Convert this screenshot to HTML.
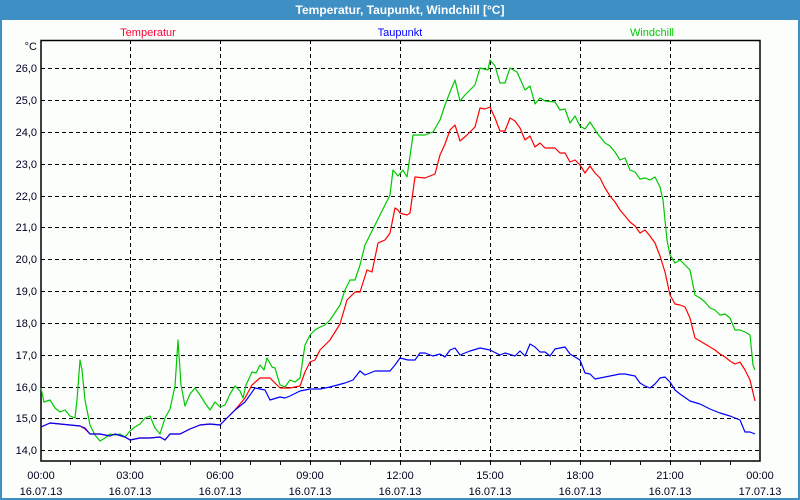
<!DOCTYPE html>
<html><head><meta charset="utf-8"><style>
html,body{margin:0;padding:0;background:#fff}
body{width:800px;height:500px;overflow:hidden;position:relative;font-family:"Liberation Sans",sans-serif}
</style></head><body>
<svg width="800" height="500" viewBox="0 0 800 500" xmlns="http://www.w3.org/2000/svg" style="position:absolute;left:0;top:0">
<rect x="0" y="0" width="800" height="500" fill="#3d8fc4"/>
<rect x="2" y="20" width="796" height="478" fill="#fcfefc"/>
<text x="400" y="14" fill="#fff" font-size="12" font-weight="bold" text-anchor="middle" font-family="Liberation Sans, sans-serif">Temperatur, Taupunkt, Windchill [°C]</text>
<g font-size="11" font-family="Liberation Sans, sans-serif">
<text x="148" y="36" fill="#ff0033" text-anchor="middle">Temperatur</text>
<text x="400" y="36" fill="#0000ff" text-anchor="middle">Taupunkt</text>
<text x="652" y="36" fill="#00cc00" text-anchor="middle">Windchill</text>
</g>
<g stroke="#000" stroke-width="1" stroke-dasharray="4,3" shape-rendering="crispEdges">
<line x1="41" x2="760" y1="68.5" y2="68.5"/><line x1="41" x2="760" y1="100.5" y2="100.5"/><line x1="41" x2="760" y1="132.5" y2="132.5"/><line x1="41" x2="760" y1="164.5" y2="164.5"/><line x1="41" x2="760" y1="196.5" y2="196.5"/><line x1="41" x2="760" y1="227.5" y2="227.5"/><line x1="41" x2="760" y1="259.5" y2="259.5"/><line x1="41" x2="760" y1="291.5" y2="291.5"/><line x1="41" x2="760" y1="323.5" y2="323.5"/><line x1="41" x2="760" y1="355.5" y2="355.5"/><line x1="41" x2="760" y1="387.5" y2="387.5"/><line x1="41" x2="760" y1="418.5" y2="418.5"/><line x1="41" x2="760" y1="450.5" y2="450.5"/>
<line y1="40" y2="461" x1="130.5" x2="130.5"/><line y1="40" y2="461" x1="220.5" x2="220.5"/><line y1="40" y2="461" x1="310.5" x2="310.5"/><line y1="40" y2="461" x1="400.5" x2="400.5"/><line y1="40" y2="461" x1="490.5" x2="490.5"/><line y1="40" y2="461" x1="580.5" x2="580.5"/><line y1="40" y2="461" x1="670.5" x2="670.5"/>
</g>
<g stroke="#000" stroke-width="1" shape-rendering="crispEdges">
<line x1="70.5" x2="70.5" y1="461" y2="465"/><line x1="100.5" x2="100.5" y1="461" y2="465"/><line x1="160.5" x2="160.5" y1="461" y2="465"/><line x1="190.5" x2="190.5" y1="461" y2="465"/><line x1="250.5" x2="250.5" y1="461" y2="465"/><line x1="280.5" x2="280.5" y1="461" y2="465"/><line x1="340.5" x2="340.5" y1="461" y2="465"/><line x1="370.5" x2="370.5" y1="461" y2="465"/><line x1="430.5" x2="430.5" y1="461" y2="465"/><line x1="460.5" x2="460.5" y1="461" y2="465"/><line x1="520.5" x2="520.5" y1="461" y2="465"/><line x1="550.5" x2="550.5" y1="461" y2="465"/><line x1="610.5" x2="610.5" y1="461" y2="465"/><line x1="640.5" x2="640.5" y1="461" y2="465"/><line x1="700.5" x2="700.5" y1="461" y2="465"/><line x1="730.5" x2="730.5" y1="461" y2="465"/>
<line x1="130.5" x2="130.5" y1="461" y2="465"/><line x1="220.5" x2="220.5" y1="461" y2="465"/><line x1="310.5" x2="310.5" y1="461" y2="465"/><line x1="400.5" x2="400.5" y1="461" y2="465"/><line x1="490.5" x2="490.5" y1="461" y2="465"/><line x1="580.5" x2="580.5" y1="461" y2="465"/><line x1="670.5" x2="670.5" y1="461" y2="465"/>
</g>
<rect x="41" y="40.5" width="719" height="420.5" fill="none" stroke="#000" stroke-width="1.5"/>
<g font-size="11" fill="#000022" text-anchor="end" font-family="Liberation Sans, sans-serif">
<text x="37" y="50">°C</text>
<text x="37" y="72">26,0</text><text x="37" y="104">25,0</text><text x="37" y="136">24,0</text><text x="37" y="168">23,0</text><text x="37" y="200">22,0</text><text x="37" y="231">21,0</text><text x="37" y="263">20,0</text><text x="37" y="295">19,0</text><text x="37" y="327">18,0</text><text x="37" y="359">17,0</text><text x="37" y="391">16,0</text><text x="37" y="422">15,0</text><text x="37" y="454">14,0</text>
</g>
<g font-size="11" fill="#000022" text-anchor="middle" font-family="Liberation Sans, sans-serif">
<text x="41" y="479">00:00</text><text x="41" y="495">16.07.13</text>
<text x="130" y="479">03:00</text><text x="130" y="495">16.07.13</text>
<text x="220" y="479">06:00</text><text x="220" y="495">16.07.13</text>
<text x="310" y="479">09:00</text><text x="310" y="495">16.07.13</text>
<text x="400" y="479">12:00</text><text x="400" y="495">16.07.13</text>
<text x="490" y="479">15:00</text><text x="490" y="495">16.07.13</text>
<text x="580" y="479">18:00</text><text x="580" y="495">16.07.13</text>
<text x="670" y="479">21:00</text><text x="670" y="495">16.07.13</text>
<text x="760" y="479">00:00</text><text x="760" y="495">17.07.13</text>
</g>
<g fill="none" stroke-width="1.2" stroke-linejoin="round">
<polyline stroke="#00c800" points="41,388 44,402 50,400 55,408 60,412 65,410 70,416 75,418 77,400 80,360 82,370 85,400 90,425 95,435 100,441 105,438 110,434 115,435 120,434 125,437 130,431 135,427 140,424 145,418 150,416 155,428 160,434 165,418 170,409 175,386 178,340 181,385 185,406 190,394 195,388 200,395 205,403 210,410 215,402 220,407 225,405 230,394 235,386 240,391 243,398 246,385 252,372 256,373 260,365 264,370 267,358 272,367 275,368 280,385 285,387 290,380 295,382 300,378 305,345 310,335 315,330 320,327 325,325 330,320 340,305 345,290 350,280 355,280 360,265 365,245 370,235 375,225 380,215 385,205 390,195 393,170 398,176 403,170 407,177 413,135 425,135 433,132 440,120 445,105 450,92 455,80 460,101 465,95 475,85 480,68 488,70 490,60 495,66 500,83 505,83 510,68 517,72 525,90 530,86 535,104 540,98 545,101 555,102 560,110 565,109 570,123 575,116 580,126 585,129 590,122 597,133 605,143 610,146 615,152 620,160 625,158 630,170 635,172 640,179 645,178 650,180 655,177 660,187 663,200 667,240 670,255 675,263 680,260 690,270 695,295 700,298 705,302 710,308 715,310 720,315 725,314 730,318 735,330 740,330 745,332 750,335 753,365 755,370"/>
<polyline stroke="#ff0000" points="41,427 50,423 60,424 70,425 80,426 85,429 90,434 100,434 110,436 115,434 125,437 130,440 140,438 150,438 160,437 165,440 170,434 180,434 190,429 200,425 210,424 220,425 225,420 235,410 245,398 252,385 260,378 270,378 280,388 290,388 300,386 305,372 310,362 315,360 320,350 330,340 340,324 347,300 355,292 360,292 367,270 372,272 378,243 385,240 390,233 395,208 398,210 400,213 403,214 407,215 410,213 415,177 425,178 435,174 440,155 445,144 450,130 455,125 460,141 467,135 475,127 480,108 485,109 490,107 495,118 500,131 505,131 510,118 515,121 520,128 525,140 530,136 535,147 540,143 545,148 555,148 560,153 565,153 570,162 575,160 580,165 585,173 590,166 595,173 600,178 605,188 610,196 615,202 620,210 625,216 630,222 635,226 640,233 645,230 650,236 655,243 660,256 665,272 670,295 675,304 680,305 685,307 690,318 695,338 700,341 705,344 710,347 715,350 720,354 725,357 730,361 735,364 740,362 745,370 750,380 755,401"/>
<polyline stroke="#0000ff" points="41,427 50,423 60,424 70,425 80,426 85,428 90,434 100,434 110,436 115,434 125,437 130,440 140,438 150,438 160,437 165,440 170,434 180,434 190,429 200,425 210,424 220,425 225,420 235,410 245,402 255,388 265,390 270,400 280,397 285,398 290,396 300,391 310,389 320,389 330,387 345,383 353,380 360,371 365,375 375,371 390,371 395,365 400,358 408,360 415,360 420,353 425,353 433,356 440,354 445,357 450,350 455,348 460,355 470,351 480,348 490,350 500,355 505,353 515,356 520,351 525,356 530,344 535,347 540,352 545,352 550,356 555,349 565,347 570,354 575,357 580,360 585,373 590,374 595,379 600,378 610,376 620,374 625,374 630,375 635,376 640,383 645,386 650,388 655,384 660,378 665,377 670,382 675,390 680,394 690,401 700,404 710,409 720,413 730,416 735,418 740,420 745,432 750,432 755,434"/>
</g>
</svg>
</body></html>
